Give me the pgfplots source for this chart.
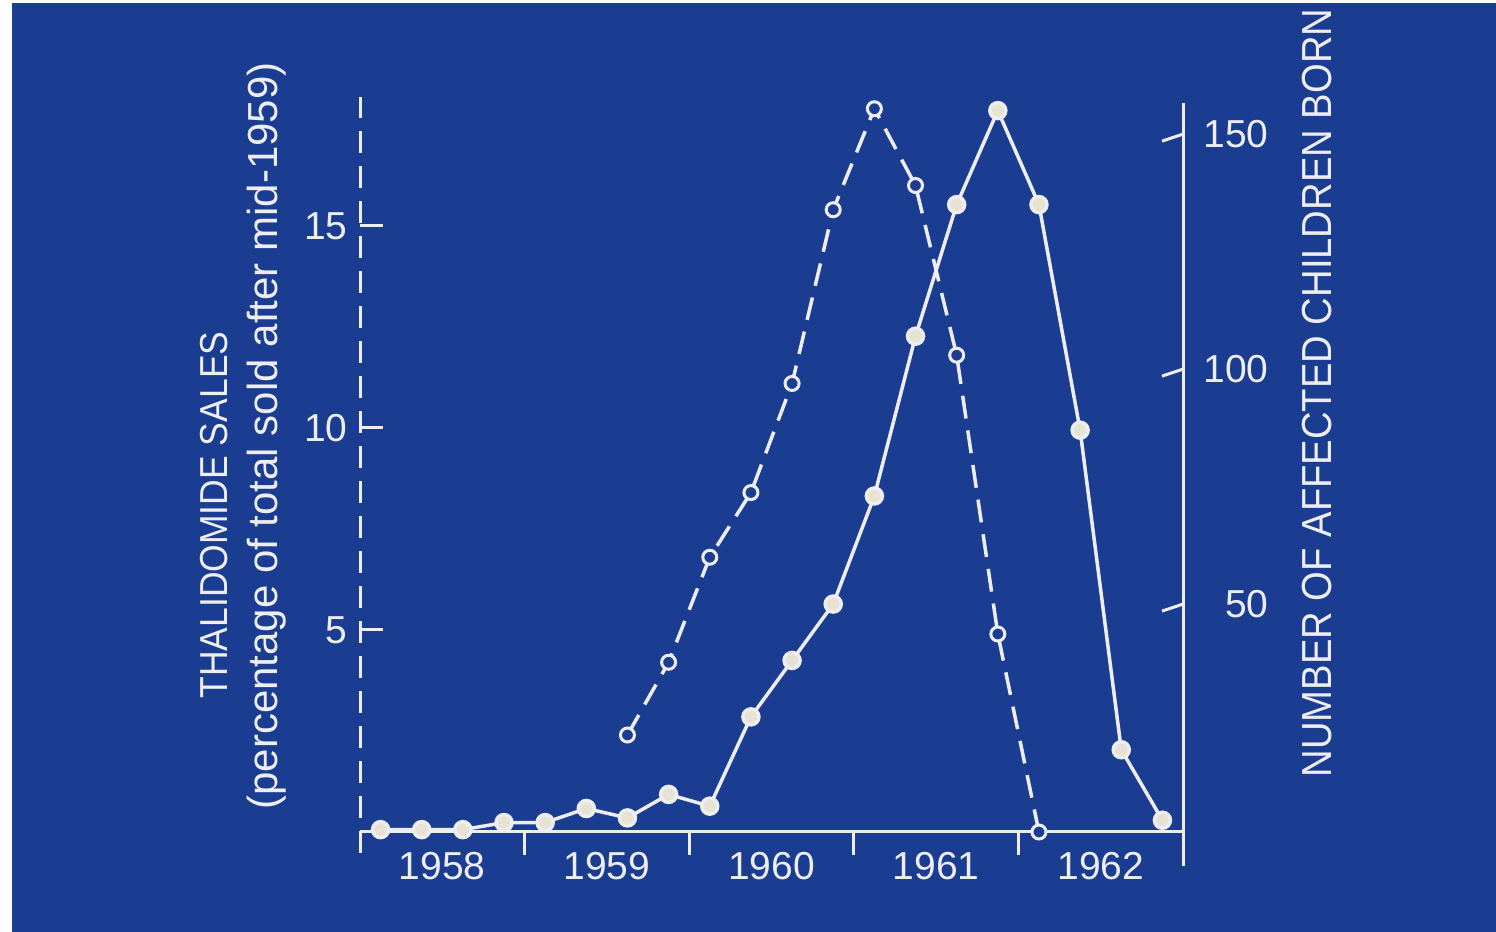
\documentclass[border=0pt]{standalone}
\usepackage{pgfplots}
\usepackage{pgfplotstable}
\pgfplotsset{compat=1.18}
\usepackage{fontspec}
\setmainfont{Liberation Sans}
\newfontfamily\capsfont[FakeStretch=0.91]{Liberation Sans}

\definecolor{bgblue}{RGB}{27,61,145}
\definecolor{fgwhite}{RGB}{238,238,242}
\definecolor{dotfill}{RGB}{230,226,212}

% quarterly sales of thalidomide, percent of total sold after mid-1959
\pgfplotstableread{
x        y
1959.625 2.4
1959.875 4.2
1960.125 6.8
1960.375 8.4
1960.625 11.1
1960.875 15.4
1961.125 17.9
1961.375 16.0
1961.625 11.8
1961.875 4.9
1962.125 0
}\sales

% quarterly number of affected children born
\pgfplotstableread{
x        y
1958.125 2
1958.375 2
1958.625 2
1958.875 3.5
1959.125 3.5
1959.375 6.5
1959.625 4.5
1959.875 9.5
1960.125 7
1960.375 26
1960.625 38
1960.875 50
1961.125 73
1961.375 107
1961.625 135
1961.875 155
1962.125 135
1962.375 87
1962.625 19
1962.875 4
}\births

\begin{document}
\begin{tikzpicture}
% page and backdrop
\fill[white] (0,0) rectangle (748pt,466pt);
\fill[bgblue] (6pt,0) rectangle (748pt,464.5pt);
\useasboundingbox (0,0) rectangle (748pt,466pt);

% x runs in years counted from the start of 1958
\pgfplotsset{
  common/.style={
    at={(180pt,50pt)}, anchor=south west,
    scale only axis, width=411.5pt, height=367.5pt,
    xmin=0, xmax=5,
    axis line style={draw=none}, tick style={draw=none},
    clip=false,
    ticklabel style={font=\fontsize{19.5}{21}\selectfont, text=fgwhite},
    /pgf/number format/assume math mode=true,
  },
}

% left axis: sales
\begin{axis}[common,
  ymin=0, ymax=18.19,
  xtick={0.5,1.5,2.5,3.5,4.5},
  xticklabels={1958,1959,1960,1961,1962},
  xticklabel style={anchor=north, inner sep=0pt, yshift=-10pt},
  ytick={5,10,15},
  yticklabel style={anchor=east, inner sep=0pt, xshift=-6pt},
]
  \draw[fgwhite, line width=1.5pt] (axis cs:0,0) -- (axis cs:5,0);
  \draw[fgwhite, line width=1.5pt, dash pattern=on 11pt off 6.5pt]
    (axis cs:0,0) ++(0,-10.5pt) -- (axis cs:0,18.19);
  \draw[fgwhite, line width=1.5pt] (axis cs:1,0) -- ++(0,-11.5pt);
  \draw[fgwhite, line width=1.5pt] (axis cs:2,0) -- ++(0,-11.5pt);
  \draw[fgwhite, line width=1.5pt] (axis cs:3,0) -- ++(0,-11.5pt);
  \draw[fgwhite, line width=1.5pt] (axis cs:4,0) -- ++(0,-11.5pt);
  \draw[fgwhite, line width=1.5pt] (axis cs:0,5) -- ++(11.5pt,0);
  \draw[fgwhite, line width=1.5pt] (axis cs:0,10) -- ++(11.5pt,0);
  \draw[fgwhite, line width=1.5pt] (axis cs:0,15) -- ++(11.5pt,0);
  \addplot[fgwhite, line width=1.75pt, dash pattern=on 11.5pt off 6pt,
    mark=*, mark size=3.5pt,
    mark options={solid, fill=bgblue, draw=fgwhite, line width=1.5pt}]
    table[x expr=\thisrow{x}-1958, y=y] {\sales};
\end{axis}

% right axis: affected births
\begin{axis}[common,
  ymin=1.5, ymax=157.9,
  xtick=\empty,
  ytick={50,100,150},
  ytick pos=right, yticklabel pos=right,
  yticklabel style={anchor=west, inner sep=0pt, text width=33pt,
    align=right, xshift=9.5pt},
]
  \draw[fgwhite, line width=1.5pt]
    (axis cs:5,1.5) ++(0,-13.5pt) -- (axis cs:5,156.6);
  \draw[fgwhite, line width=1.5pt] (axis cs:5,50) -- ++(-10.5pt,0);
  \draw[fgwhite, line width=1.5pt] (axis cs:5,100) -- ++(-10.5pt,0);
  \draw[fgwhite, line width=1.5pt] (axis cs:5,150) -- ++(-10.5pt,0);
  \addplot[fgwhite, line width=1.75pt,
    mark=*, mark size=4pt,
    mark options={fill=dotfill, draw=none}]
    table[x expr=\thisrow{x}-1958, y=y] {\births};
\end{axis}

% axis titles
\node[rotate=90, text=fgwhite, font=\capsfont\fontsize{19.5}{21}\selectfont]
  at (107pt,208.5pt) {THALIDOMIDE SALES};
\node[rotate=90, text=fgwhite, font=\fontsize{21}{23}\selectfont]
  at (133.5pt,248pt) {(percentage of total sold after mid-1959)};
\node[rotate=90, text=fgwhite, font=\capsfont\fontsize{21}{23}\selectfont]
  at (658.5pt,269.5pt) {NUMBER OF AFFECTED CHILDREN BORN};
\end{tikzpicture}
\end{document}
